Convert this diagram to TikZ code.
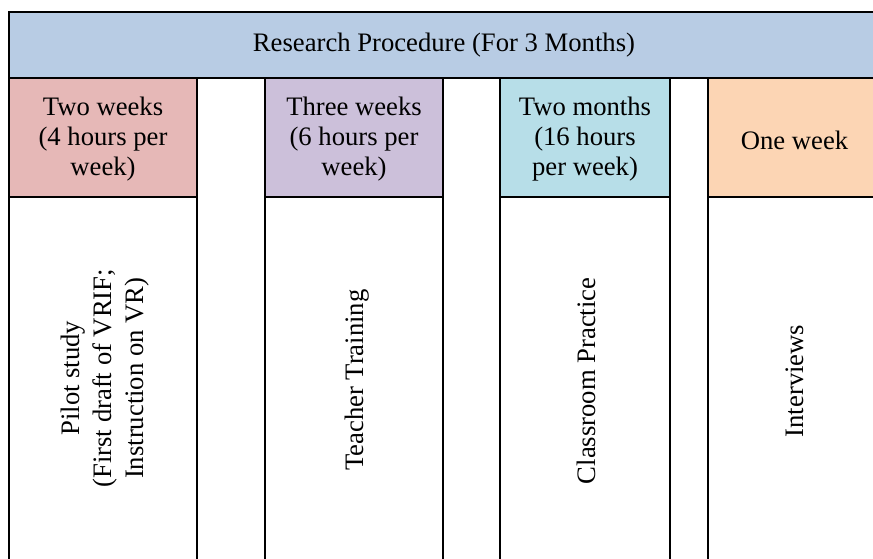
\documentclass[tikz,border=0pt]{standalone}
\usepackage{fontspec}
\setmainfont{Liberation Serif}
\definecolor{hdrblue}{HTML}{B8CCE4}
\definecolor{cpink}{HTML}{E6B8B7}
\definecolor{cpurple}{HTML}{CCC0DA}
\definecolor{cteal}{HTML}{B7DEE8}
\definecolor{corange}{HTML}{FCD5B4}
\tikzset{
  cell/.style={draw=black, line width=1.5pt, rectangle, inner sep=0pt, outer sep=0pt, anchor=north west},
  txt/.style={font=\fontsize{20}{22.5}\selectfont, align=center, inner sep=0pt, text=black},
  vtxt/.style={font=\fontsize{20}{24.2}\selectfont, align=center, inner sep=0pt, text=black, rotate=90},
}
\begin{document}
\begin{tikzpicture}[x=0.75pt,y=-0.75pt]
\useasboundingbox (0,0) rectangle (873,558);
\clip (0,0) rectangle (873,558);
\fill[white] (0,0) rectangle (873,558);
% header
\node[cell, fill=hdrblue, minimum width=900*0.75pt, minimum height=66*0.75pt] (hdr) at (9,12) {};
\node[txt] (hdrt) at (444,45) {Research Procedure (For 3 Months)};
% column heads
\node[cell, fill=cpink, minimum width=188*0.75pt, minimum height=119*0.75pt] (h1) at (9,78) {};
\node[cell, fill=cpurple, minimum width=178*0.75pt, minimum height=119*0.75pt] (h2) at (265,78) {};
\node[cell, fill=cteal, minimum width=170*0.75pt, minimum height=119*0.75pt] (h3) at (500,78) {};
\node[cell, fill=corange, minimum width=200*0.75pt, minimum height=119*0.75pt] (h4) at (708,78) {};
\node[txt] (h1t) at ([yshift=-1.5pt]h1.center) {Two weeks\\(4 hours per\\week)};
\node[txt] (h2t) at ([yshift=-1.5pt]h2.center) {Three weeks\\(6 hours per\\week)};
\node[txt] (h3t) at ([yshift=-1.5pt]h3.center) {Two months\\(16 hours\\per week)};
\node[txt] (h4t) at (794.5,140) {One week};
% bodies
\node[cell, fill=white, minimum width=188*0.75pt, minimum height=373*0.75pt] (b1) at (9,197) {};
\node[cell, fill=white, minimum width=178*0.75pt, minimum height=373*0.75pt] (b2) at (265,197) {};
\node[cell, fill=white, minimum width=170*0.75pt, minimum height=373*0.75pt] (b3) at (500,197) {};
\node[cell, fill=white, minimum width=200*0.75pt, minimum height=373*0.75pt] (b4) at (708,197) {};
\node[vtxt] (b1t) at ([xshift=1.5pt,yshift=4pt]b1.center) {Pilot study\\(First draft of VRIF;\\Instruction on VR)};
\node[vtxt] (b2t) at ([xshift=2pt,yshift=2.5pt]b2.center) {Teacher Training};
\node[vtxt] (b3t) at ([xshift=1pt,yshift=2pt]b3.center) {Classroom Practice};
\node[vtxt] (b4t) at (795,381) {Interviews};
\end{tikzpicture}
\end{document}
